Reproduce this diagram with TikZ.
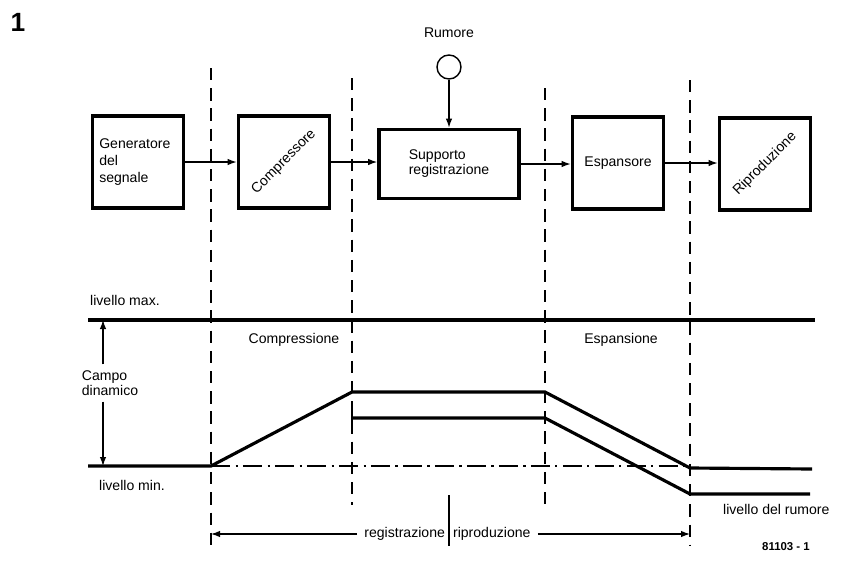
\documentclass[tikz,border=0pt]{standalone}
\usepackage{fontspec}
\setmainfont{Liberation Sans}
\usetikzlibrary{arrows.meta, positioning}

\begin{document}
\begin{tikzpicture}[
  x=0.02cm, y=-0.02cm,
  font=\fontsize{8}{9.5}\selectfont,
  block/.style = {draw, line width=2.1pt, minimum width=1.82cm, minimum height=1.84cm, inner sep=2pt, align=center},
  conn/.style = {line width=0.7pt, -{Latex[length=1.8mm, width=1.3mm]}},
  level/.style = {line width=1.8pt},
  sep/.style = {line width=0.7pt, dash pattern=on 7pt off 4.5pt},
  ref/.style = {line width=0.6pt, dash pattern=on 11pt off 3pt on 1.2pt off 3pt}
  ]

\useasboundingbox (0,0) rectangle (841,568);

% figure number
\node[font=\fontsize{15}{15}\selectfont\bfseries] (fig) at (18,22) {1};

% Top row: blocks
\node[block, align=left, text width=1.55cm] (gen) at (138,162) {Generatore\\del\\segnale};
\node[block] (comp) at (284,162) {};
\node[rotate=45, inner sep=0pt] (comptxt) at (comp) {Compressore};
\node[block, align=left, minimum width=2.8cm, minimum height=1.38cm] (supp) at (449,164) {Supporto\\[-1pt]registrazione};
\node[block] (esp) at (618,163) {Espansore};
\node[block] (rip) at (765,164) {};
\node[rotate=45, inner sep=0pt] (riptxt) at (rip) {Riproduzione};

% noise source
\node (rum) at (449,33) {Rumore};
\node[draw, circle, line width=0.8pt, minimum size=0.48cm, inner sep=0pt] (src) at (449,67) {};

% Draw arrows
\draw[conn] (gen.east) -- (comp.west |- gen.east);
\draw[conn] (comp.east) -- (supp.west |- comp.east);
\draw[conn] (supp.east) -- (esp.west |- supp.east);
\draw[conn] (esp.east) -- (rip.west |- esp.east);
\draw[conn] (src.south) -- (supp.north);

% dashed separators
\coordinate (s1top) at (211,68);  \coordinate (s1bot) at (211,545);
\coordinate (s2top) at (352,78);  \coordinate (s2bot) at (352,505);
\coordinate (s3top) at (545,88);  \coordinate (s3bot) at (545,505);
\coordinate (s4top) at (690,80);  \coordinate (s4bot) at (690,545);
\foreach \s in {1,2,3,4}
  \draw[sep] (s\s top) -- (s\s bot);

% Bottom: levels
\coordinate (maxl) at (88,320);   \coordinate (maxr) at (815,320);
\node[anchor=west] (maxtxt) at (84,300) {livello max.};
\draw[level] (maxl) -- (maxr);

\coordinate (minl) at (88,466);
\node[anchor=west] (mintxt) at (93,485) {livello min.};
\draw[ref] (211,466) -- (690,466);
\draw[level] (minl) -- (s1top |- minl) -- (352,392) -- (545,392) -- (690,468) -- (812,469);
\draw[level] (352,418) -- (545,418) -- (690,494) -- (810,494);
\draw[line width=0.7pt] (352,412) -- (352,424);
\node[anchor=west] (noisetxt) at (717,509) {livello del rumore};

% dynamic range
\node[align=left] (campo) at (110,383) {Campo\\[-1pt]dinamico};
\coordinate (cmax) at (103,320);
\coordinate (cmin) at (103,466);
\draw[conn] (cmax |- campo.north) -- (cmax);
\draw[conn] (cmin |- campo.south) -- (cmin);

% Add labels
\node (compr) at (294,340) {Compressione};
\node (espan) at (621,340) {Espansione};

% recording / playback
\node[anchor=east, inner sep=1pt] (reg) at (447,534) {registrazione};
\node[anchor=west, inner sep=1pt] (ripr) at (451,534) {riproduzione};
\coordinate (divtop) at (449,495);
\coordinate (divbot) at (449,546);
\draw[line width=0.8pt] (divtop) -- (divbot);
\draw[conn] ([xshift=-3pt]reg.west) -- (reg.west -| s1bot);
\draw[conn] ([xshift=3pt]ripr.east) -- (ripr.east -| s4bot);

\node[font=\fontsize{6.5}{7}\selectfont\bfseries] (code) at (786,547) {81103 - 1};
\end{tikzpicture}
\end{document}
